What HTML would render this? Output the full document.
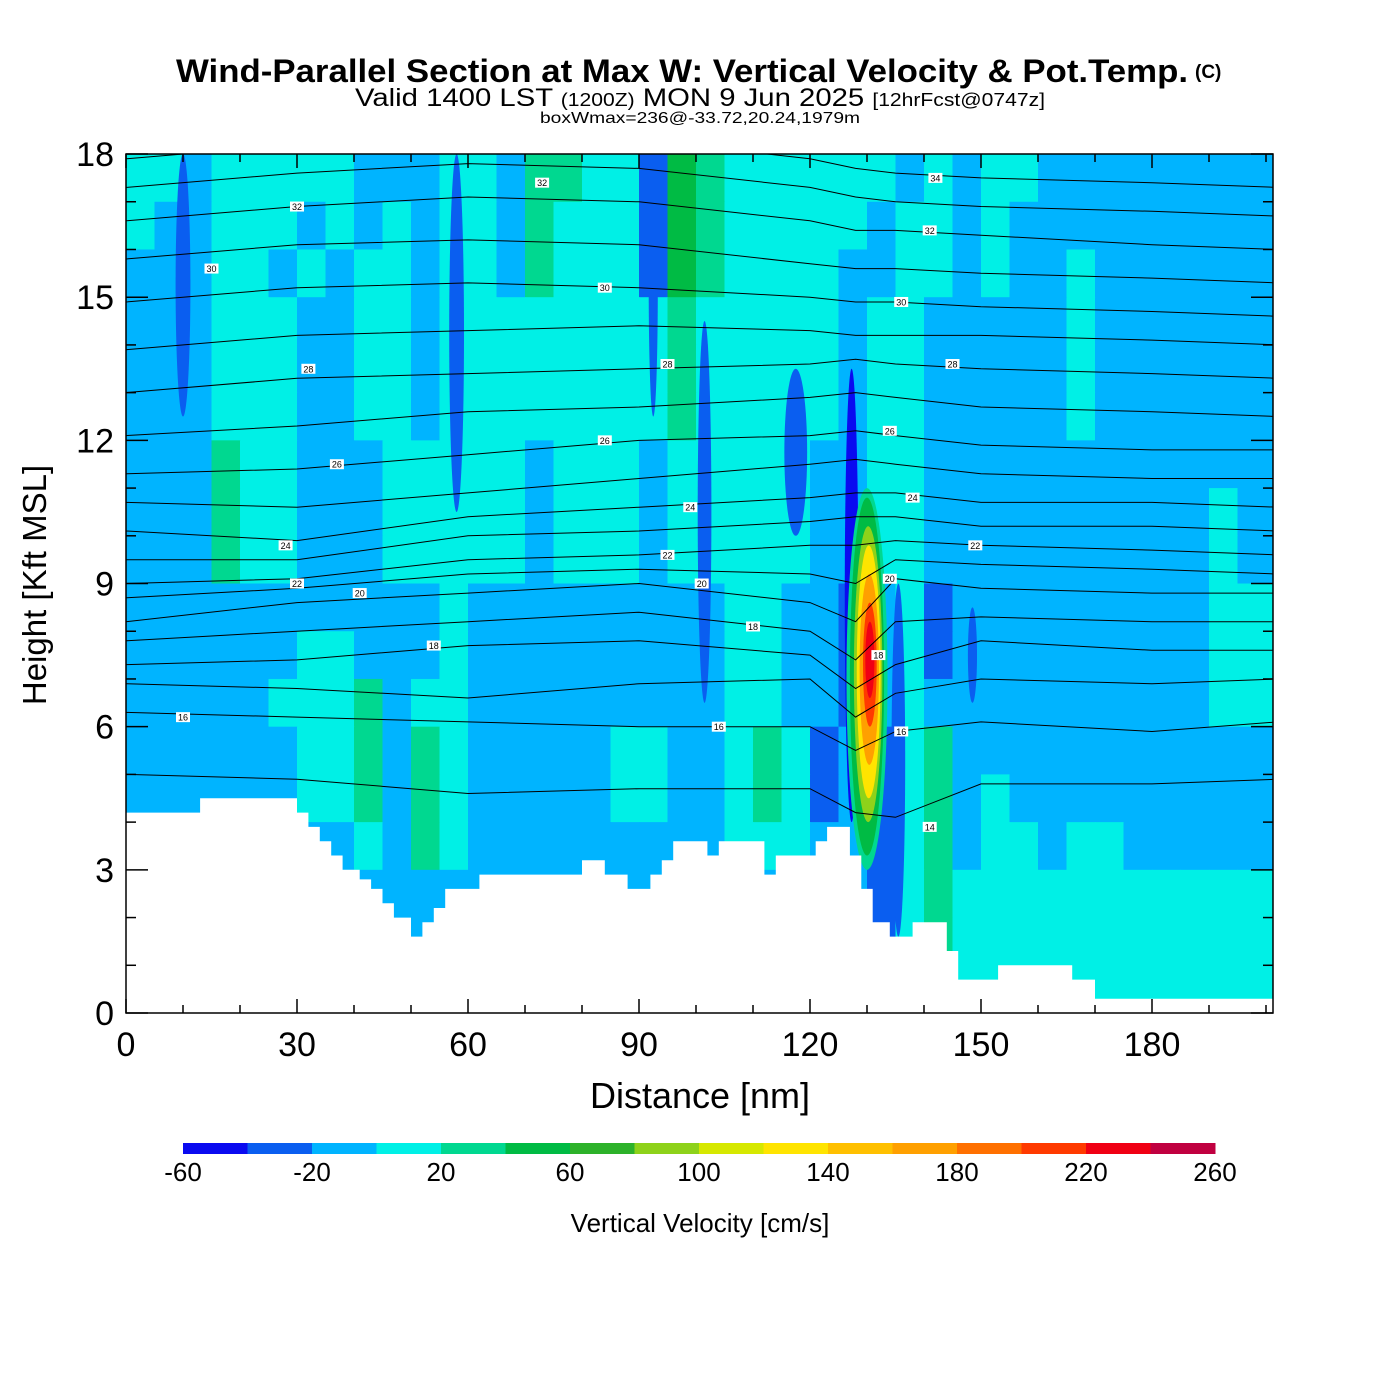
<!DOCTYPE html>
<html><head><meta charset="utf-8"><title>Wind-Parallel Section</title>
<style>
html,body{margin:0;padding:0;background:#fff;}
svg{display:block;font-family:"Liberation Sans",Arial,sans-serif;}
</style></head>
<body>
<svg id="chart" width="1400" height="1400" viewBox="0 0 1400 1400" xmlns="http://www.w3.org/2000/svg">
<rect x="0" y="0" width="1400" height="1400" fill="#fff"/>
<text x="176" y="82" font-size="32" font-weight="bold" textLength="1012" lengthAdjust="spacingAndGlyphs">Wind-Parallel Section at Max W: Vertical Velocity &amp; Pot.Temp.</text>
<text x="1195" y="78" font-size="19" font-weight="bold">(C)</text>
<text x="355" y="106" font-size="25" textLength="690" lengthAdjust="spacingAndGlyphs">Valid 1400 LST <tspan font-size="18">(1200Z)</tspan> MON 9 Jun 2025 <tspan font-size="18">[12hrFcst@0747z]</tspan></text>
<text x="540" y="123" font-size="16" textLength="320" lengthAdjust="spacingAndGlyphs">boxWmax=236@-33.72,20.24,1979m</text>
<defs><clipPath id="pc"><rect x="126" y="154" width="1147" height="859"/></clipPath></defs>
<g id="field" clip-path="url(#pc)"></g>
<g id="theta" clip-path="url(#pc)"></g>
<g id="terrain" clip-path="url(#pc)"></g>
<g id="labels" clip-path="url(#pc)"></g>
<rect x="126" y="154" width="1147" height="859" fill="none" stroke="#000" stroke-width="1.5"/>
<g id="axes"></g>
<text x="700" y="1108" text-anchor="middle" font-size="36">Distance [nm]</text>
<text transform="translate(46,585) rotate(-90)" text-anchor="middle" font-size="33">Height [Kft MSL]</text>
<g id="cbar"></g>
<text x="700" y="1232" text-anchor="middle" font-size="26">Vertical Velocity [cm/s]</text>
</svg>
<script>
// ---- data ----
const levelColors = ["#0a0af0","#0a5ef0","#00b4ff","#00f0e6","#00d890","#00bb44","#2db22a","#8ed21a","#d6e800","#ffe400","#ffc000","#ffa000","#ff7000","#ff3a00","#f00014","#c00040"];
const levelTicks = [-60,-20,20,60,100,140,180,220,260];
const xTicks = [0,30,60,90,120,150,180];
const yTicks = [0,3,6,9,12,15,18];
// coarse w field: level index per 5nm x 1kft cell, rows listed top (17-18 kft) to bottom (0-1 kft)
const wRows = [
"33233 33322 23324 43315 43333 33232 33222 22222 2",
"32233 32323 23324 33315 43333 32332 32222 22222 2",
"22233 23233 23324 33315 43333 22332 32232 22222 2",
"22233 32233 23333 33334 33333 23322 22232 22222 2",
"22233 32233 23333 33334 33333 23322 22232 22222 2",
"22233 32233 23333 33334 33333 23322 22232 22222 2",
"22243 32223 33332 33323 33332 23322 22222 22222 2",
"22243 32223 33332 33323 33332 23322 22222 22232 2",
"22243 32223 33332 33323 33332 23322 22222 22232 2",
"22222 22222 23222 22222 23322 12312 22222 22233 3",
"22222 23322 23222 22222 23322 12312 22222 22233 3",
"22222 33342 33222 22222 23322 12322 22222 22233 3",
"22222 23342 43222 22332 23431 21342 22222 22222 2",
"22222 23342 43222 22332 23431 21342 32222 22222 2",
"22222 22232 43222 22222 23332 21342 33233 22222 2",
"22222 22222 22222 22222 22222 21343 33333 33333 3",
"22222 22222 22222 22222 22222 21343 33333 33333 3",
"22222 22222 22222 22222 22222 22343 33333 33333 3"];
// narrow streaks
const streakX = [127.3, 135.5, 10.0, 58.0, 101.5, 117.5, 148.5, 92.5];
const streakHW = [1.2, 1.2, 1.3, 1.3, 1.2, 2.0, 0.8, 0.8];
const streakBot = [4.0, 1.6, 12.5, 10.5, 6.5, 10.0, 6.5, 12.5];
const streakTop = [13.5, 9.0, 18.0, 18.0, 14.5, 13.5, 8.5, 18.0];
const streakLev = [0, 1, 1, 1, 1, 1, 1, 1];
// updraft plume nested contours
const plumeLev = [4, 5, 7, 9, 11, 13, 14];
const plumeX = [130.0, 130.0, 130.2, 130.3, 130.4, 130.5, 130.5];
const plumeBot = [3.0, 3.3, 4.0, 4.5, 5.2, 6.0, 6.6];
const plumeTop = [11.0, 10.8, 10.2, 9.8, 9.2, 8.6, 8.2];
const plumeHW = [3.6, 3.0, 2.5, 2.1, 1.7, 1.2, 0.8];
// terrain
const terrX = [0,13,13,30,30,32,32,34,34,36,36,38,38,41,41,43,43,45,45,47,47,50,50,52,52,54,54,56,56,62,62,80,80,84,84,88,88,92,92,94,94,96,96,102,102,104,104,112,112,114,114,121,121,123,123,127,127,129,129,131,131,134,134,138,138,144,144,146,146,153,153,166,166,170,170,202];
const terrH = [4.2,4.2,4.5,4.5,4.2,4.2,3.9,3.9,3.6,3.6,3.3,3.3,3.0,3.0,2.8,2.8,2.6,2.6,2.3,2.3,2.0,2.0,1.6,1.6,1.9,1.9,2.2,2.2,2.6,2.6,2.9,2.9,3.2,3.2,2.9,2.9,2.6,2.6,2.9,2.9,3.2,3.2,3.6,3.6,3.3,3.3,3.6,3.6,2.9,2.9,3.3,3.3,3.6,3.6,3.9,3.9,3.3,3.3,2.6,2.6,1.9,1.9,1.6,1.6,1.9,1.9,1.3,1.3,0.7,0.7,1.0,1.0,0.7,0.7,0.3,0.3];
// theta contours
const thetaStations = [0,30,60,90,120,128,135,150,180,202];
const thetaLevels = [15,16,17,18,19,20,21,22,23,24,25,26,27,28,29,30,31,32,33,34];
const thetaH = [
[5.0,4.9,4.6,4.7,4.7,4.2,4.1,4.8,4.8,4.9],
[6.3,6.2,6.1,6.0,6.0,5.5,5.9,6.1,5.9,6.1],
[6.9,6.8,6.6,6.9,7.0,6.2,6.7,7.0,6.9,7.0],
[7.3,7.4,7.7,7.8,7.5,6.8,7.3,7.8,7.6,7.6],
[7.8,8.0,8.2,8.4,8.0,7.4,8.2,8.3,8.2,8.2],
[8.2,8.6,8.8,9.0,8.6,8.2,9.1,8.9,8.8,8.8],
[8.7,8.9,9.2,9.3,9.2,9.0,9.5,9.4,9.3,9.2],
[9.0,9.1,9.5,9.6,9.8,9.8,9.9,9.8,9.7,9.6],
[9.5,9.5,10.0,10.1,10.3,10.4,10.4,10.2,10.2,10.1],
[10.1,9.9,10.4,10.6,10.8,10.9,10.9,10.7,10.7,10.6],
[10.7,10.6,10.9,11.2,11.5,11.6,11.5,11.3,11.2,11.2],
[11.3,11.4,11.7,12.0,12.1,12.2,12.1,11.9,11.8,11.8],
[12.1,12.3,12.6,12.7,12.9,13.0,12.9,12.7,12.6,12.5],
[13.0,13.3,13.4,13.5,13.6,13.7,13.6,13.5,13.4,13.3],
[13.9,14.2,14.3,14.4,14.3,14.2,14.2,14.2,14.1,14.0],
[14.9,15.2,15.3,15.2,15.0,14.9,14.9,14.8,14.7,14.6],
[15.8,16.1,16.2,16.1,15.7,15.6,15.6,15.5,15.4,15.3],
[16.6,16.9,17.1,17.0,16.6,16.4,16.4,16.3,16.1,16.0],
[17.3,17.6,17.8,17.7,17.3,17.1,17.0,16.9,16.8,16.7],
[17.9,18.2,18.4,18.3,17.9,17.7,17.6,17.5,17.4,17.3]];
const labelText = ["16","16","16","18","18","18","20","20","20","22","22","22","24","24","24","26","26","26","28","28","28","30","30","30","32","32","32","34","14"];
const labelX = [10,104,136,54,110,132,41,101,134,30,95,149,28,99,138,37,84,134,32,95,145,15,84,136,30,73,141,142,141];
const labelY = [6.2,6.0,5.9,7.7,8.1,7.5,8.8,9.0,9.1,9.0,9.6,9.8,9.8,10.6,10.8,11.5,12.0,12.2,13.5,13.6,13.6,15.6,15.2,14.9,16.9,17.4,16.4,17.5,3.9];

// ---- scales ----
const NS = "http://www.w3.org/2000/svg";
function xs(v){ return 126 + v * 5.7; }
function ys(v){ return 1013 - v * 47.72; }
function mk(tag, attrs, parent){ const e = document.createElementNS(NS, tag); for (const k in attrs) e.setAttribute(k, attrs[k]); parent.appendChild(e); return e; }
function lv(c){ return parseInt(c, 16); }

const field = document.getElementById('field');
wRows.forEach(function(rs, ri){
  const row = rs.replace(/ /g, '');
  const k0 = 17 - ri;
  for (let i = 0; i < row.length; i++) {
    const c = mk('rect', {x: xs(i*5), y: ys(k0+1), width: 5.7*5 + 0.6, height: 47.72 + 0.6, fill: levelColors[lv(row[i])]}, field);
    
    
  }
});
streakX.forEach(function(x, i){
  const s = mk('ellipse', {cx: xs(x), cy: (ys(streakBot[i]) + ys(streakTop[i])) / 2, rx: streakHW[i]*5.7, ry: (ys(streakBot[i]) - ys(streakTop[i])) / 2, fill: levelColors[streakLev[i]]}, field);
  
  
});
plumeLev.forEach(function(l, i){
  const p = mk('ellipse', {cx: xs(plumeX[i]), cy: (ys(plumeBot[i]) + ys(plumeTop[i])) / 2, rx: plumeHW[i]*5.7, ry: (ys(plumeBot[i]) - ys(plumeTop[i])) / 2, fill: levelColors[l]}, field);
  
  
});

const theta = document.getElementById('theta');
thetaLevels.forEach(function(t, li){
  let d = '';
  thetaStations.forEach(function(x, j){ d += (j ? 'L' : 'M') + xs(x).toFixed(1) + ',' + ys(thetaH[li][j]).toFixed(1); });
  const p = mk('path', {d: d, fill: 'none', stroke: '#000', 'stroke-width': 1}, theta);
  
  
});

const terr = document.getElementById('terrain');
let td = 'M' + xs(0) + ',' + 1020;
terrX.forEach(function(x, i){ td += 'L' + xs(x).toFixed(1) + ',' + ys(terrH[i]).toFixed(1); });
td += 'L' + xs(202) + ',1020Z';
const tp = mk('path', {d: td, fill: '#fff', stroke: 'none'}, terr);



const labs = document.getElementById('labels');
labelText.forEach(function(t, i){
  const g = mk('g', {}, labs);
  
  
  mk('rect', {x: xs(labelX[i]) - 7, y: ys(labelY[i]) - 5, width: 14, height: 10, fill: '#fff'}, g);
  const tx = mk('text', {x: xs(labelX[i]), y: ys(labelY[i]) + 3.5, 'text-anchor': 'middle', 'font-size': 9}, g);
  tx.textContent = t;
});

const axes = document.getElementById('axes');
for (let v = 0; v <= 200; v += 10) {
  const major = v % 30 === 0;
  const L = major ? 14 : 8;
  mk('line', {x1: xs(v), y1: 1013, x2: xs(v), y2: 1013 - L, stroke: '#000', 'stroke-width': 1.5}, axes);
  mk('line', {x1: xs(v), y1: 154, x2: xs(v), y2: 154 + L, stroke: '#000', 'stroke-width': 1.5}, axes);
}
for (let v = 0; v <= 18; v += 1) {
  const major = v % 3 === 0;
  const L = major ? 22 : 10;
  mk('line', {x1: 126, y1: ys(v), x2: 126 + L, y2: ys(v), stroke: '#000', 'stroke-width': 1.5}, axes);
  mk('line', {x1: 1273, y1: ys(v), x2: 1273 - L, y2: ys(v), stroke: '#000', 'stroke-width': 1.5}, axes);
}
xTicks.forEach(function(v){
  const t = mk('text', {x: xs(v), y: 1056, 'text-anchor': 'middle', 'font-size': 34}, axes);
  
  
  t.textContent = v;
});
yTicks.forEach(function(v){
  const t = mk('text', {x: 114, y: ys(v) + 12, 'text-anchor': 'end', 'font-size': 34}, axes);
  
  
  t.textContent = v;
});

const cbar = document.getElementById('cbar');
const cw = (1215 - 183) / levelColors.length;
levelColors.forEach(function(c, i){
  const r = mk('rect', {x: 183 + i*cw, y: 1143, width: cw + 0.5, height: 11, fill: c}, cbar);
  
  
});
levelTicks.forEach(function(v, i){
  const t = mk('text', {x: 183 + i*2*cw, y: 1181, 'text-anchor': 'middle', 'font-size': 26}, cbar);
  
  
  t.textContent = v;
});
</script>
</body></html>
